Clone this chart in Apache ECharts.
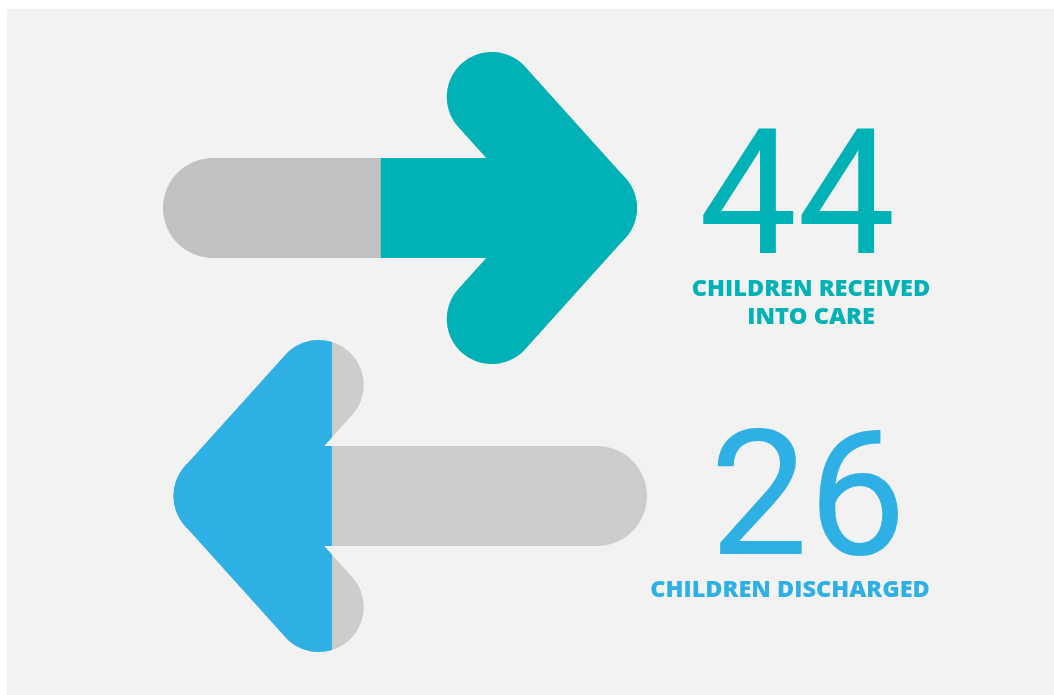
<!DOCTYPE html>
<html><head><meta charset="utf-8">
<script src="https://cdn.jsdelivr.net/npm/echarts@6/dist/echarts.min.js"></script>
<style>html,body{margin:0;padding:0;background:#fff;}#chart{width:1054px;height:695px;}</style>
</head><body><div id="chart"></div>
<script>
// ---- data ----
const arrowNames = ['Children received into care', 'Children discharged'];
const arrowDirection = [1, -1];          // 1 = points right, -1 = points left
const arrowStart = [0, 2.2];             // % of track
const arrowEnd = [97.9, 100];            // % of track
const colourSplit = [45.0, 34.9];        // % of track where colour changes
const counts = ['44', '26'];
const captions = ['CHILDREN RECEIVED\nINTO CARE', 'CHILDREN DISCHARGED'];
const accentColours = ['#00b1b6', '#2eb0e5'];
const restColours = ['#c0c1c3', '#cccccb'];

// ---- style constants ----
const SHAFT_R = 50, ARM_R = 45, ARM_DX = 100, ARM_DY = 111, SEG = 48;

function capsule(p1, p2, r, cap1, cap2) {
  const dx = p2[0] - p1[0], dy = p2[1] - p1[1];
  const L = Math.hypot(dx, dy) || 1;
  const d = [dx / L, dy / L], n = [-d[1], d[0]];
  const pts = [];
  pts.push([p1[0] + n[0] * r, p1[1] + n[1] * r]);
  if (cap2) {
    for (let k = 0; k <= SEG; k++) {
      const t = Math.PI * k / SEG, c = Math.cos(t), s = Math.sin(t);
      pts.push([p2[0] + r * (c * n[0] + s * d[0]), p2[1] + r * (c * n[1] + s * d[1])]);
    }
  } else {
    pts.push([p2[0] + n[0] * r, p2[1] + n[1] * r]);
    pts.push([p2[0] - n[0] * r, p2[1] - n[1] * r]);
  }
  if (cap1) {
    for (let k = 0; k <= SEG; k++) {
      const t = Math.PI * k / SEG, c = Math.cos(t), s = Math.sin(t);
      pts.push([p1[0] + r * (-c * n[0] - s * d[0]), p1[1] + r * (-c * n[1] - s * d[1])]);
    }
  } else {
    pts.push([p1[0] - n[0] * r, p1[1] - n[1] * r]);
  }
  return pts;
}

// keep part of polygon where side*(x - sx) >= 0
function clipX(poly, sx, side) {
  const out = [];
  const inside = p => side * (p[0] - sx) >= 0;
  for (let k = 0; k < poly.length; k++) {
    const a = poly[k], b = poly[(k + 1) % poly.length];
    const ia = inside(a), ib = inside(b);
    if (ia) out.push(a);
    if (ia !== ib) {
      const t = (sx - a[0]) / (b[0] - a[0]);
      out.push([sx, a[1] + t * (b[1] - a[1])]);
    }
  }
  return out;
}

function renderItem(params, api) {
  const i = params.dataIndex;
  const p0 = api.coord([api.value(0), i]);
  const x1 = api.coord([api.value(1), i])[0];
  const xs = api.coord([api.value(2), i])[0];
  const x0 = p0[0], cy = p0[1];
  const dir = api.value(3);
  const tipX = dir > 0 ? x1 : x0;
  const tailX = dir > 0 ? x0 : x1;
  const vx = tipX - dir * ARM_R;
  const pieces = [
    capsule([tailX + dir * SHAFT_R, cy], [vx, cy], SHAFT_R, true, false),
    capsule([vx, cy], [vx - dir * ARM_DX, cy - ARM_DY], ARM_R, true, true),
    capsule([vx, cy], [vx - dir * ARM_DX, cy + ARM_DY], ARM_R, true, true)
  ];
  const children = [];
  pieces.forEach(p => children.push({ type: 'polygon', shape: { points: p }, style: { fill: restColours[i] } }));
  pieces.forEach(p => {
    const c = clipX(p, xs, dir);
    if (c.length > 2) children.push({ type: 'polygon', shape: { points: c }, style: { fill: accentColours[i] } });
  });
  return { type: 'group', children };
}

const numFont = '400 175px Roboto';
const capFont = '800 23.5px "Open Sans"';
const chart = echarts.init(document.getElementById('chart'), null, { renderer: 'canvas' });
chart.setOption({
  backgroundColor: '#ffffff',
  animation: false,
  grid: { left: 163, width: 484, top: 64, height: 576 },
  xAxis: { type: 'value', min: 0, max: 100, show: false },
  yAxis: { type: 'category', data: arrowNames, inverse: true, show: false },
  graphic: [
    { type: 'rect', z: -10, shape: { x: 7, y: 9, width: 1047, height: 686 }, style: { fill: '#f2f2f2' } },
    { type: 'text', style: { text: counts[0], x: 797, y: 209, textAlign: 'center', align: 'center', textVerticalAlign: 'middle', verticalAlign: 'middle', font: numFont, fill: accentColours[0] } },
    { type: 'text', style: { text: counts[1], x: 808, y: 510, textAlign: 'center', align: 'center', textVerticalAlign: 'middle', verticalAlign: 'middle', font: numFont, fill: accentColours[1] } },
    { type: 'text', style: { text: captions[0], x: 811, y: 303, lineHeight: 28, textAlign: 'center', align: 'center', textVerticalAlign: 'middle', verticalAlign: 'middle', font: capFont, fill: accentColours[0] } },
    { type: 'text', style: { text: captions[1], x: 790, y: 590, lineHeight: 28, textAlign: 'center', align: 'center', textVerticalAlign: 'middle', verticalAlign: 'middle', font: capFont, fill: accentColours[1] } }
  ],
  series: [{
    type: 'custom',
    clip: false,
    renderItem: renderItem,
    encode: { x: [0, 1, 2] },
    data: arrowNames.map((n, i) => [arrowStart[i], arrowEnd[i], colourSplit[i], arrowDirection[i]])
  }]
});
</script></body></html>
